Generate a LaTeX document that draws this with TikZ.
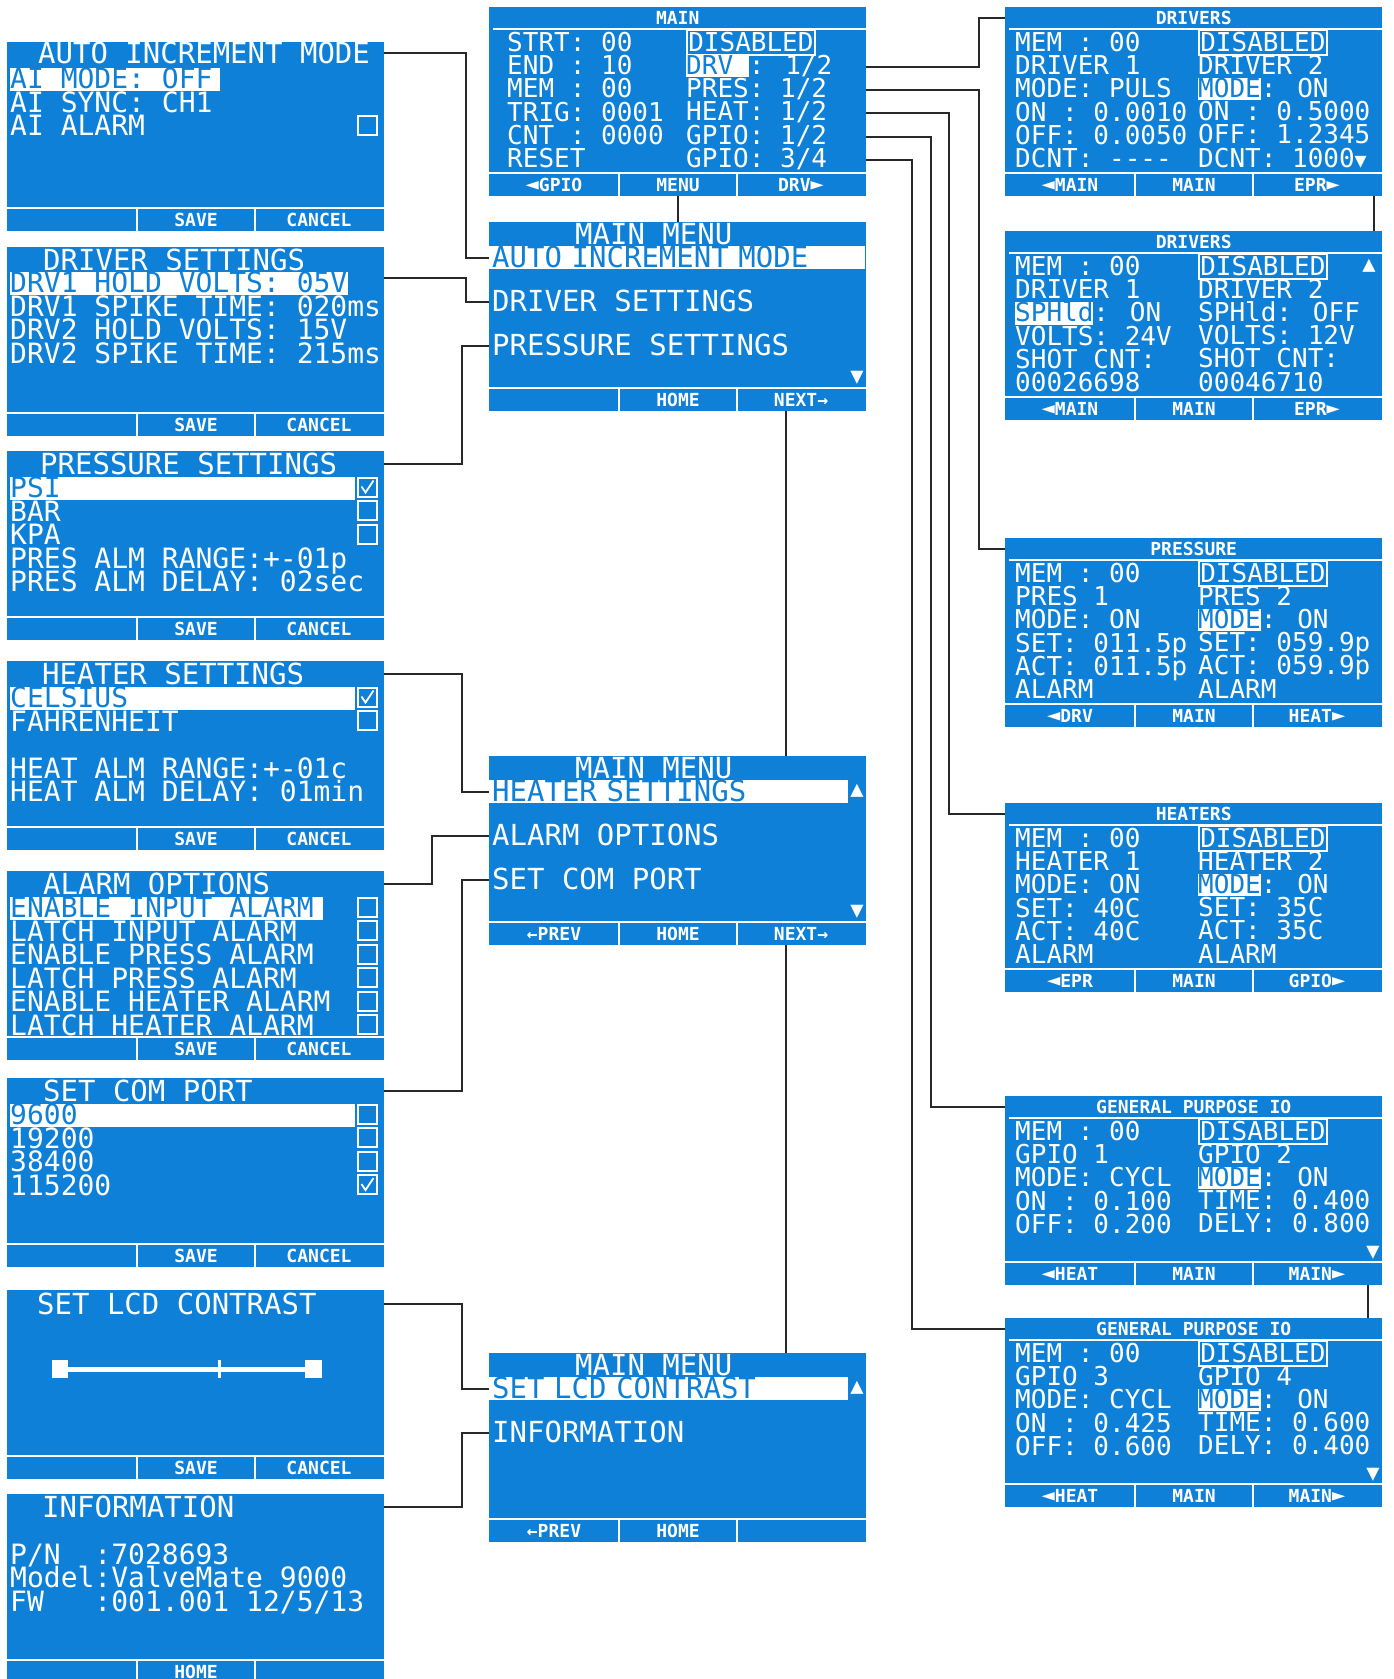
\documentclass[tikz,border=0pt]{standalone}
\usepackage{fontspec}
\usepackage{tikz}
\usetikzlibrary{calc,positioning}
\usepackage{xcolor}
\newfontfamily\lcdfont{DejaVu Sans Mono}
\definecolor{lcdblue}{RGB}{14,128,216}
\definecolor{wiregray}{RGB}{40,40,40}

% cursor, frame and small arrows inside the LCD text
\newcommand{\lcdcap}{\rule{0pt}{0.729em}}
\newcommand{\lcdhl}[1]{\lcdcap\smash{\setlength{\fboxsep}{0pt}\colorbox{white}{\rule[-0.1em]{0pt}{0.84em}\textcolor{lcdblue}{#1}}}}
\newcommand{\lcdhlw}[2]{\lcdcap\smash{\setlength{\fboxsep}{0pt}\colorbox{white}{\makebox[#1][l]{\rule[-0.1em]{0pt}{0.84em}\textcolor{lcdblue}{#2}}}}}
\newcommand{\lcdframe}[1]{\lcdcap\smash{\setlength{\fboxsep}{0.5pt}\setlength{\fboxrule}{1.6pt}\fcolorbox{white}{lcdblue}{\rule[-0.1em]{0pt}{0.8em}#1}}}
\newcommand{\lcdtri}[1]{{\fontsize{22}{22}\selectfont #1}}

% title bar of a status screen
\newcommand{\lcdhead}[2]{%
  \node[headtxt] (#1-t) at ($(#1.north)+(0,11)$) {#2};
  \draw[lcdrule] ($(#1.north west)+(4,22)$) -- ($(#1.north east)+(0,22)$);}

% soft key bar at the bottom of a screen
\newcommand{\lcdfoot}[4]{%
  \draw[lcdrule] ($(#1.south west)+(0,-23)$) -- ($(#1.south east)+(0,-23)$);
  \draw[lcdrule] ($(#1.south west)+(130,0)$) -- ++(0,-23);
  \draw[lcdrule] ($(#1.south west)+(248,0)$) -- ++(0,-23);
  \node[foottxt] (#1-fa) at ($(#1.south west)+(65,-11)$) {#2};
  \node[foottxt] (#1-fb) at ($(#1.south west)+(189,-11)$) {#3};
  \node[foottxt] (#1-fc) at ($(#1.south west)+(312,-11)$) {#4};}

\begin{document}
\begin{tikzpicture}[x=1pt, y=-1pt,
    screen/.style={rectangle, fill=lcdblue, minimum width=377pt, minimum height=189pt,
                   inner sep=0pt, anchor=north west},
    lcdrule/.style={draw=white, line width=2pt},
    headtxt/.style={font=\lcdfont\bfseries\fontsize{18}{18}\selectfont, text=white, inner sep=0pt},
    foottxt/.style={headtxt},
    settitle/.style={font=\lcdfont\fontsize{29}{23.5}\selectfont, text=white, inner sep=0pt, anchor=north west},
    setrows/.style={settitle, align=left, font={\lcdfont\fontsize{28}{23.5}\selectfont\lineskiplimit=-30pt}},
    statrows/.style={settitle, align=left, font={\lcdfont\fontsize{26}{23.2}\selectfont\lineskiplimit=-30pt}},
    statrow/.style={statrows, text height=19pt, text depth=4pt},
    menurow/.style={font=\lcdfont\fontsize{29}{29}\selectfont, text=white, anchor=north west,
                    inner xsep=3pt, inner ysep=0pt, text height=21pt, text depth=2pt},
    menuhl/.style={menurow, fill=white, text=lcdblue, align=left},
    chkbox/.style={draw=white, line width=2pt, fill=lcdblue, minimum size=19pt, inner sep=0pt},
    checked/.style={chkbox, path picture={
        \draw[white, line width=1.8pt]
          ([shift={(4pt,-9pt)}]path picture bounding box.north west) --
          ([shift={(8pt,4pt)}]path picture bounding box.south west) --
          ([shift={(-3pt,-3pt)}]path picture bounding box.north east);}},
    marker/.style={font=\lcdfont\fontsize{22}{22}\selectfont, text=white, inner sep=0pt},
    wire/.style={draw=wiregray, line width=2pt},
]
\path[use as bounding box, fill=white] (0,0) rectangle (1393,1679);

% Settings screens
\node[screen] (aiset) at (7,42) {};
\node[settitle] (aiset-t) at ($(aiset.north west)+(31,0)$) {AUTO INCREMENT MODE};
\node[setrows] (aiset-r) at ($(aiset.north west)+(3,26)$) {\lcdhlw{210pt}{AI MODE: OFF}\\AI SYNC: CH1\\AI ALARM};
\node[chkbox] (aiset-c3) at ($(aiset.north west)+(360,83)$) {};
\lcdfoot{aiset}{}{SAVE}{CANCEL}

\node[screen] (drvset) at (7,247) {};
\node[settitle] (drvset-t) at ($(drvset.north west)+(36,2)$) {DRIVER SETTINGS};
\node[setrows] (drvset-r) at ($(drvset.north west)+(3,25)$) {\lcdhlw{338pt}{DRV1 HOLD VOLTS: 05V}\\DRV1 SPIKE TIME: 020ms\\DRV2 HOLD VOLTS: 15V\\DRV2 SPIKE TIME: 215ms};
\lcdfoot{drvset}{}{SAVE}{CANCEL}

\node[screen] (presset) at (7,451) {};
\node[settitle] (presset-t) at ($(presset.north west)+(33,2)$) {PRESSURE SETTINGS};
\node[setrows] (presset-r) at ($(presset.north west)+(3,26)$) {\lcdhlw{345pt}{PSI}\\BAR\\KPA\\PRES ALM RANGE:+-01p\\PRES ALM DELAY: 02sec};
\node[checked] (presset-c1) at ($(presset.north west)+(360,36)$) {};
\node[chkbox] (presset-c2) at ($(presset.north west)+(360,59.5)$) {};
\node[chkbox] (presset-c3) at ($(presset.north west)+(360,83)$) {};
\lcdfoot{presset}{}{SAVE}{CANCEL}

\node[screen] (heatset) at (7,661) {};
\node[settitle] (heatset-t) at ($(heatset.north west)+(35,2)$) {HEATER SETTINGS};
\node[setrows] (heatset-r) at ($(heatset.north west)+(3,26)$) {\lcdhlw{345pt}{CELSIUS}\\FAHRENHEIT\\~\\HEAT ALM RANGE:+-01c\\HEAT ALM DELAY: 01min};
\node[checked] (heatset-c1) at ($(heatset.north west)+(360,36)$) {};
\node[chkbox] (heatset-c2) at ($(heatset.north west)+(360,59.5)$) {};
\lcdfoot{heatset}{}{SAVE}{CANCEL}

\node[screen] (almset) at (7,871) {};
\node[settitle] (almset-t) at ($(almset.north west)+(36,2)$) {ALARM OPTIONS};
\node[setrows] (almset-r) at ($(almset.north west)+(3,26)$) {\lcdhlw{313pt}{ENABLE INPUT ALARM}\\LATCH INPUT ALARM\\ENABLE PRESS ALARM\\LATCH PRESS ALARM\\ENABLE HEATER ALARM\\LATCH HEATER ALARM};
\node[chkbox] (almset-c1) at ($(almset.north west)+(360,36)$) {};
\node[chkbox] (almset-c2) at ($(almset.north west)+(360,59.5)$) {};
\node[chkbox] (almset-c3) at ($(almset.north west)+(360,83)$) {};
\node[chkbox] (almset-c4) at ($(almset.north west)+(360,106.5)$) {};
\node[chkbox] (almset-c5) at ($(almset.north west)+(360,130)$) {};
\node[chkbox] (almset-c6) at ($(almset.north west)+(360,153.5)$) {};
\lcdfoot{almset}{}{SAVE}{CANCEL}

\node[screen] (comset) at (7,1078) {};
\node[settitle] (comset-t) at ($(comset.north west)+(36,2)$) {SET COM PORT};
\node[setrows] (comset-r) at ($(comset.north west)+(3,26)$) {\lcdhlw{345pt}{9600}\\19200\\38400\\115200};
\node[chkbox] (comset-c1) at ($(comset.north west)+(360,36)$) {};
\node[chkbox] (comset-c2) at ($(comset.north west)+(360,59.5)$) {};
\node[chkbox] (comset-c3) at ($(comset.north west)+(360,83)$) {};
\node[checked] (comset-c4) at ($(comset.north west)+(360,106.5)$) {};
\lcdfoot{comset}{}{SAVE}{CANCEL}

\node[screen] (lcdset) at (7,1290) {};
\node[settitle] (lcdset-t) at ($(lcdset.north west)+(30,3)$) {SET LCD CONTRAST};
\draw[white, line width=5pt] ($(lcdset.north west)+(50,79)$) -- ($(lcdset.north west)+(310,79)$);
\fill[white] ($(lcdset.north west)+(45,70)$) rectangle ($(lcdset.north west)+(61,88)$);
\fill[white] ($(lcdset.north west)+(298,70)$) rectangle ($(lcdset.north west)+(315,88)$);
\fill[white] ($(lcdset.north west)+(211,70)$) rectangle ($(lcdset.north west)+(214,88)$);
\lcdfoot{lcdset}{}{SAVE}{CANCEL}

\node[screen] (infoset) at (7,1494) {};
\node[settitle] (infoset-t) at ($(infoset.north west)+(35,2)$) {INFORMATION};
\node[setrows] (infoset-r) at ($(infoset.north west)+(3,26)$) {\lcdcap\\P/N~~:7028693\\Model:ValveMate 9000\\FW~~~:001.001 12/5/13};
\lcdfoot{infoset}{}{HOME}{}

% Main status screen and menus
\node[screen] (mainscr) at (489,7) {};
\lcdhead{mainscr}{MAIN}
\node[statrows] (mainscr-l) at ($(mainscr.north west)+(18,25)$) {STRT: 00\\END : 10\\MEM : 00\\TRIG: 0001\\CNT : 0000\\RESET};
\node[statrow] (mainscr-dis) at ($(mainscr.north west)+(197,25)$) {\lcdframe{DISABLED}};
\node[statrow] (mainscr-drv) at ($(mainscr.north west)+(197,48.2)$) {\lcdhl{DRV }: 1/2};
\node[statrow] (mainscr-pres) at ($(mainscr.north west)+(197,71.4)$) {PRES: 1/2};
\node[statrow] (mainscr-heat) at ($(mainscr.north west)+(197,94.6)$) {HEAT: 1/2};
\node[statrow] (mainscr-gpa) at ($(mainscr.north west)+(197,117.8)$) {GPIO: 1/2};
\node[statrow] (mainscr-gpb) at ($(mainscr.north west)+(197,141)$) {GPIO: 3/4};
\lcdfoot{mainscr}{\lcdtri{◄}GPIO}{MENU}{DRV\lcdtri{►}}

\node[screen] (menua) at (489,222) {};
\node[menurow] (menua-t) at ($(menua.north west)+(83,1)$) {MAIN MENU};
\node[menuhl, text width=370pt] (menua-r1) at ($(menua.north west)+(0,24)$) {AUTO INCREMENT MODE};
\node[menurow] (menua-r2) at ($(menua.north west)+(0,68)$) {DRIVER SETTINGS};
\node[menurow] (menua-r3) at ($(menua.north west)+(0,112)$) {PRESSURE SETTINGS};
\node[marker] (menua-dn) at ($(menua.north west)+(368,156)$) {▼};
\lcdfoot{menua}{}{HOME}{NEXT→}

\node[screen] (menub) at (489,756) {};
\node[menurow] (menub-t) at ($(menub.north west)+(83,1)$) {MAIN MENU};
\node[menuhl, text width=353pt] (menub-r1) at ($(menub.north west)+(0,24)$) {HEATER SETTINGS};
\node[menurow] (menub-r2) at ($(menub.north west)+(0,68)$) {ALARM OPTIONS};
\node[menurow] (menub-r3) at ($(menub.north west)+(0,112)$) {SET COM PORT};
\node[marker] (menub-up) at ($(menub.north west)+(368,35)$) {▲};
\node[marker] (menub-dn) at ($(menub.north west)+(368,156)$) {▼};
\lcdfoot{menub}{←PREV}{HOME}{NEXT→}

\node[screen] (menuc) at (489,1353) {};
\node[menurow] (menuc-t) at ($(menuc.north west)+(83,1)$) {MAIN MENU};
\node[menuhl, text width=353pt] (menuc-r1) at ($(menuc.north west)+(0,24)$) {SET LCD CONTRAST};
\node[menurow] (menuc-r2) at ($(menuc.north west)+(0,68)$) {INFORMATION};
\node[marker] (menuc-up) at ($(menuc.north west)+(368,35)$) {▲};
\lcdfoot{menuc}{←PREV}{HOME}{}

% Channel status screens
\node[screen] (drva) at (1005,7) {};
\lcdhead{drva}{DRIVERS}
\node[statrows] (drva-l) at ($(drva.north west)+(10,25)$) {MEM : 00\\DRIVER 1\\MODE: PULS\\ON : 0.0010\\OFF: 0.0050\\DCNT: ----};
\node[statrows] (drva-r) at ($(drva.north west)+(193,25)$) {\lcdframe{DISABLED}\\DRIVER 2\\\lcdhl{MODE}: ON\\ON : 0.5000\\OFF: 1.2345\\DCNT: 1000{\fontsize{20}{20}\selectfont▼}};
\lcdfoot{drva}{\lcdtri{◄}MAIN}{MAIN}{EPR\lcdtri{►}}

\node[screen] (drvb) at (1005,231) {};
\lcdhead{drvb}{DRIVERS}
\node[statrows] (drvb-l) at ($(drvb.north west)+(10,25)$) {MEM : 00\\DRIVER 1\\\lcdhl{SPHld}: ON\\VOLTS: 24V\\SHOT CNT:\\00026698};
\node[statrows] (drvb-r) at ($(drvb.north west)+(193,25)$) {\lcdframe{DISABLED}\\DRIVER 2\\SPHld: OFF\\VOLTS: 12V\\SHOT CNT:\\00046710};
\node[marker] (drvb-up) at ($(drvb.north west)+(364,35)$) {▲};
\lcdfoot{drvb}{\lcdtri{◄}MAIN}{MAIN}{EPR\lcdtri{►}}

\node[screen] (presscr) at (1005,538) {};
\lcdhead{presscr}{PRESSURE}
\node[statrows] (presscr-l) at ($(presscr.north west)+(10,25)$) {MEM : 00\\PRES 1\\MODE: ON\\SET: 011.5p\\ACT: 011.5p\\ALARM};
\node[statrows] (presscr-r) at ($(presscr.north west)+(193,25)$) {\lcdframe{DISABLED}\\PRES 2\\\lcdhl{MODE}: ON\\SET: 059.9p\\ACT: 059.9p\\ALARM};
\lcdfoot{presscr}{\lcdtri{◄}DRV}{MAIN}{HEAT\lcdtri{►}}

\node[screen] (heatscr) at (1005,803) {};
\lcdhead{heatscr}{HEATERS}
\node[statrows] (heatscr-l) at ($(heatscr.north west)+(10,25)$) {MEM : 00\\HEATER 1\\MODE: ON\\SET: 40C\\ACT: 40C\\ALARM};
\node[statrows] (heatscr-r) at ($(heatscr.north west)+(193,25)$) {\lcdframe{DISABLED}\\HEATER 2\\\lcdhl{MODE}: ON\\SET: 35C\\ACT: 35C\\ALARM};
\lcdfoot{heatscr}{\lcdtri{◄}EPR}{MAIN}{GPIO\lcdtri{►}}

\node[screen] (gpioa) at (1005,1096) {};
\lcdhead{gpioa}{GENERAL PURPOSE IO}
\node[statrows] (gpioa-l) at ($(gpioa.north west)+(10,25)$) {MEM : 00\\GPIO 1\\MODE: CYCL\\ON : 0.100\\OFF: 0.200};
\node[statrows] (gpioa-r) at ($(gpioa.north west)+(193,25)$) {\lcdframe{DISABLED}\\GPIO 2\\\lcdhl{MODE}: ON\\TIME: 0.400\\DELY: 0.800};
\node[marker] (gpioa-dn) at ($(gpioa.north west)+(368,157)$) {▼};
\lcdfoot{gpioa}{\lcdtri{◄}HEAT}{MAIN}{MAIN\lcdtri{►}}

\node[screen] (gpiob) at (1005,1318) {};
\lcdhead{gpiob}{GENERAL PURPOSE IO}
\node[statrows] (gpiob-l) at ($(gpiob.north west)+(10,25)$) {MEM : 00\\GPIO 3\\MODE: CYCL\\ON : 0.425\\OFF: 0.600};
\node[statrows] (gpiob-r) at ($(gpiob.north west)+(193,25)$) {\lcdframe{DISABLED}\\GPIO 4\\\lcdhl{MODE}: ON\\TIME: 0.600\\DELY: 0.400};
\node[marker] (gpiob-dn) at ($(gpiob.north west)+(368,157)$) {▼};
\lcdfoot{gpiob}{\lcdtri{◄}HEAT}{MAIN}{MAIN\lcdtri{►}}

% Menu entries to settings screens
\draw[wire] (aiset.east |- aiset-t) -- ++(82,0) |- (menua-r1.west);
\draw[wire] ([yshift=-31pt]drvset.north east) -- ++(82,0) |- (menua-r2.west);
\draw[wire] (presset.east |- presset-t) -- ++(78,0) |- (menua-r3.west);
\draw[wire] (heatset.east |- heatset-t) -- ++(78,0) |- (menub-r1.west);
\draw[wire] (almset.east |- almset-t) -- ++(48,0) |- (menub-r2.west);
\draw[wire] (comset.east |- comset-t) -- ++(78,0) |- (menub-r3.west);
\draw[wire] (lcdset.east |- lcdset-t) -- ++(78,0) |- (menuc-r1.west);
\draw[wire] (infoset.east |- infoset-t) -- ++(78,0) |- (menuc-r2.west);

% Main screen to channel screens
\draw[wire] (mainscr.east |- mainscr-drv) -- ++(113,0) |- (drva.west |- drva-t);
\draw[wire] (mainscr.east |- mainscr-pres) -- ++(113,0) |- (presscr.west |- presscr-t);
\draw[wire] (mainscr.east |- mainscr-heat) -- ++(83,0) |- (heatscr.west |- heatscr-t);
\draw[wire] (mainscr.east |- mainscr-gpa) -- ++(65,0) |- (gpioa.west |- gpioa-t);
\draw[wire] (mainscr.east |- mainscr-gpb) -- ++(46,0) |- (gpiob.west |- gpiob-t);

% Soft key links
\draw[wire] (mainscr.south -| mainscr-fb) -- (menua.north -| mainscr-fb);
\draw[wire] ($(menua.south -| menua-fc)+(-15,0)$) -- ($(menub.north -| menua-fc)+(-15,0)$);
\draw[wire] ($(menub.south -| menub-fc)+(-15,0)$) -- ($(menuc.north -| menub-fc)+(-15,0)$);
\draw[wire] ($(drva.south east)+(-8,0)$) -- ($(drvb.north east)+(-8,0)$);
\draw[wire] ($(gpioa.south east)+(-14,0)$) -- ($(gpiob.north east)+(-14,0)$);

\end{tikzpicture}
\end{document}
